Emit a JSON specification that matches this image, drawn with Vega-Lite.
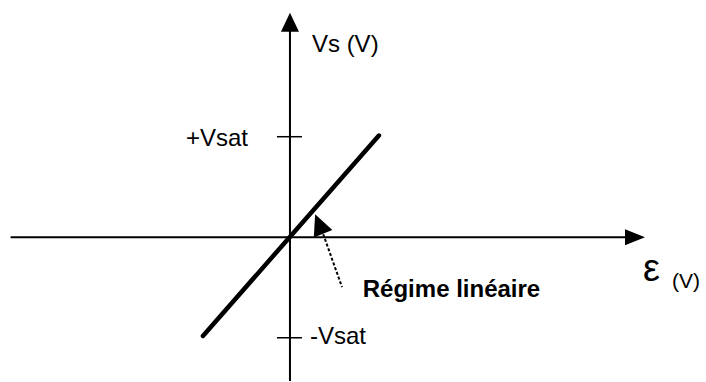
{
  "$schema": "https://vega.github.io/schema/vega-lite/v6.json",
  "width": 706,
  "height": 382,
  "padding": 0,
  "autosize": {"type": "fit", "contains": "padding"},
  "background": "#ffffff",
  "config": {"view": {"stroke": null}},
  "datasets": {
    "axes": [
      {"x": -2.77, "y": 0, "x2": 3.44, "y2": 0},
      {"x": 0, "y": -1.43, "x2": 0, "y2": 2.12}
    ],
    "ticks": [
      {"x": -0.129, "y": 1, "x2": 0.119, "y2": 1},
      {"x": -0.129, "y": -1, "x2": 0.119, "y2": -1}
    ],
    "response": [
      {"x": -0.863, "y": -0.982, "x2": 0.882, "y2": 1.012}
    ],
    "pointer": [
      {"x": 0.33, "y": 0.03, "x2": 0.516, "y2": -0.496}
    ],
    "xhead": [{"x": 3.52, "y": 0}],
    "yhead": [{"x": 0, "y": 2.232}],
    "phead": [{"x": 0.25, "y": 0.228}],
    "labels": [
      {"x": 0.218, "y": 1.845, "text": "Vs (V)"},
      {"x": 0.198, "y": -1.062, "text": "-Vsat"}
    ],
    "labelsRight": [
      {"x": -0.416, "y": 0.903, "text": "+Vsat"}
    ],
    "bold": [
      {"x": 0.722, "y": -0.595, "text": "Régime linéaire"}
    ],
    "eps": [
      {"x": 3.5, "y": -0.437, "text": "ε"}
    ],
    "unit": [
      {"x": 3.787, "y": -0.5, "text": "(V)"}
    ]
  },
  "encoding": {
    "x": {"field": "x", "type": "quantitative", "scale": {"domain": [-2.875, 4.125], "nice": false, "zero": false}, "axis": null},
    "y": {"field": "y", "type": "quantitative", "scale": {"domain": [-1.43, 2.36], "nice": false, "zero": false}, "axis": null}
  },
  "layer": [
    {
      "data": {"name": "axes"},
      "mark": {"type": "rule", "color": "#000000", "strokeWidth": 2},
      "encoding": {"x2": {"field": "x2"}, "y2": {"field": "y2"}}
    },
    {
      "data": {"name": "ticks"},
      "mark": {"type": "rule", "color": "#000000", "strokeWidth": 1.5},
      "encoding": {"x2": {"field": "x2"}, "y2": {"field": "y2"}}
    },
    {
      "data": {"name": "response"},
      "mark": {"type": "rule", "color": "#000000", "strokeWidth": 4.5, "strokeCap": "round"},
      "encoding": {"x2": {"field": "x2"}, "y2": {"field": "y2"}}
    },
    {
      "data": {"name": "pointer"},
      "mark": {"type": "rule", "color": "#000000", "strokeWidth": 2, "strokeDash": [3, 2]},
      "encoding": {"x2": {"field": "x2"}, "y2": {"field": "y2"}}
    },
    {
      "data": {"name": "xhead"},
      "mark": {"type": "point", "shape": "M0,0L-2,-0.8L-2,0.8Z", "size": 400, "filled": true, "color": "#000000", "opacity": 1, "strokeWidth": 0}
    },
    {
      "data": {"name": "yhead"},
      "mark": {"type": "point", "shape": "M0,0L-0.9,1.9L0.9,1.9Z", "size": 400, "filled": true, "color": "#000000", "opacity": 1, "strokeWidth": 0}
    },
    {
      "data": {"name": "phead"},
      "mark": {"type": "point", "shape": "M0,0L-1,2.1L1,2.1Z", "size": 400, "angle": -22, "filled": true, "color": "#000000", "opacity": 1, "strokeWidth": 0}
    },
    {
      "data": {"name": "labels"},
      "mark": {"type": "text", "font": "Liberation Sans", "fontSize": 24, "align": "left", "baseline": "alphabetic", "color": "#000000"},
      "encoding": {"text": {"field": "text"}}
    },
    {
      "data": {"name": "labelsRight"},
      "mark": {"type": "text", "font": "Liberation Sans", "fontSize": 24, "align": "right", "baseline": "alphabetic", "color": "#000000"},
      "encoding": {"text": {"field": "text"}}
    },
    {
      "data": {"name": "bold"},
      "mark": {"type": "text", "font": "Liberation Sans", "fontSize": 24, "fontWeight": "bold", "align": "left", "baseline": "alphabetic", "color": "#000000"},
      "encoding": {"text": {"field": "text"}}
    },
    {
      "data": {"name": "eps"},
      "mark": {"type": "text", "font": "Liberation Sans", "fontSize": 38, "align": "left", "baseline": "alphabetic", "color": "#000000"},
      "encoding": {"text": {"field": "text"}}
    },
    {
      "data": {"name": "unit"},
      "mark": {"type": "text", "font": "Liberation Sans", "fontSize": 21, "align": "left", "baseline": "alphabetic", "color": "#000000"},
      "encoding": {"text": {"field": "text"}}
    }
  ]
}
